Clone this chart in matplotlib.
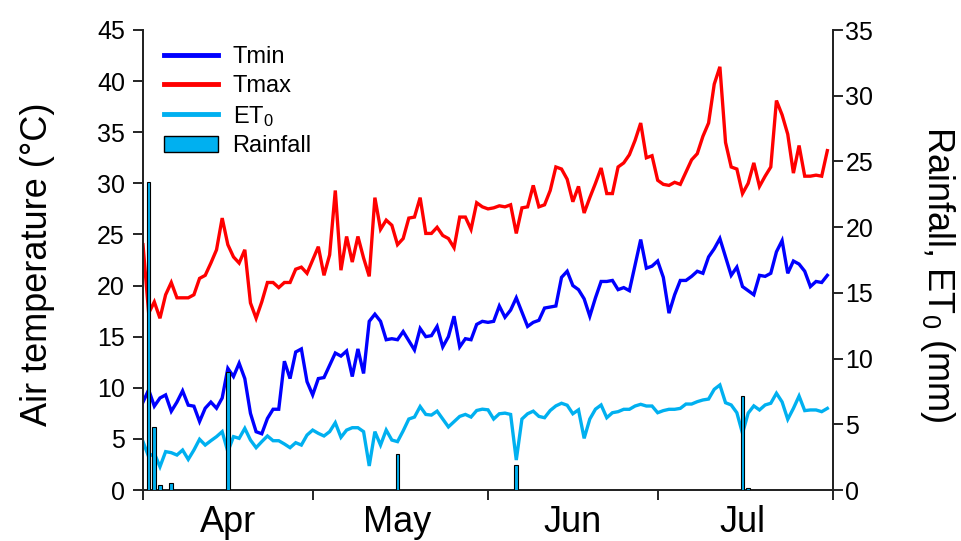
import numpy as np
import pandas as pd
import matplotlib
matplotlib.use("Agg")
import matplotlib.pyplot as plt
import matplotlib.dates as mdates
from matplotlib.patches import Patch
from matplotlib.lines import Line2D

plt.rcParams['font.family'] = ['Liberation Sans', 'DejaVu Sans']
plt.rcParams['mathtext.fontset'] = 'custom'
plt.rcParams['mathtext.rm'] = 'Liberation Sans'
plt.rcParams['mathtext.it'] = 'Liberation Sans'

start_date = '2019-04-01'

tmin = [8.6, 9.8, 8.2, 9.0, 9.3, 7.7, 8.6, 9.7, 8.3, 8.2,
        6.7, 8.0, 8.6, 8.0, 9.0, 11.9, 11.1, 12.4, 10.9, 7.5,
        5.7, 5.5, 7.0, 7.9, 7.9, 12.6, 10.9, 13.5, 13.8, 10.6,
        9.3, 10.9, 11.0, 12.2, 13.4, 13.1, 13.6, 11.1, 13.8, 11.4,
        16.5, 17.2, 16.5, 14.7, 14.8, 14.7, 15.5, 14.6, 13.7, 15.8,
        15.0, 15.1, 16.0, 14.0, 15.0, 17.0, 14.0, 14.8, 14.7, 16.2,
        16.5, 16.4, 16.5, 18.0, 16.9, 17.6, 18.8, 17.4, 16.0, 16.4,
        16.6, 17.8, 17.9, 18.0, 20.8, 21.4, 20.0, 19.6, 18.7, 17.0,
        18.8, 20.4, 20.4, 20.5, 19.6, 19.8, 19.5, 22.0, 24.5, 21.7,
        21.9, 22.4, 20.8, 17.3, 19.1, 20.5, 20.5, 20.9, 21.4, 21.2,
        22.8, 23.6, 24.6, 22.8, 21.0, 21.8, 19.9, 19.5, 19.1, 21.0,
        20.9, 21.2, 23.3, 24.4, 21.2, 22.4, 22.1, 21.4, 19.9, 20.4,
        20.3, 21.0]

tmax = [24.0, 17.3, 18.4, 16.8, 19.1, 20.3, 18.8, 18.8, 18.8, 19.1,
        20.7, 21.0, 22.2, 23.5, 26.6, 24.0, 22.8, 22.2, 23.5, 18.3,
        16.8, 18.4, 20.3, 20.3, 19.8, 20.3, 20.3, 21.6, 21.8, 21.2,
        22.5, 23.8, 21.0, 23.0, 29.3, 21.5, 24.8, 22.3, 24.8, 22.7,
        20.9, 28.6, 25.5, 26.4, 25.9, 24.0, 24.6, 26.6, 26.7, 28.6,
        25.1, 25.1, 25.7, 24.9, 24.6, 23.7, 26.7, 26.7, 25.5, 28.1,
        27.7, 27.5, 27.6, 27.8, 27.7, 27.9, 25.1, 27.6, 27.7, 29.8,
        27.7, 27.9, 29.3, 31.6, 31.4, 30.4, 28.2, 29.7, 27.1, 28.6,
        30.0, 31.5, 29.0, 29.0, 31.6, 32.0, 32.8, 34.2, 35.9, 32.5,
        32.7, 30.3, 29.9, 29.8, 30.1, 29.9, 31.1, 32.3, 32.9, 34.6,
        35.9, 39.7, 41.4, 34.0, 31.6, 31.4, 29.0, 30.0, 32.0, 29.7,
        30.7, 31.6, 38.1, 36.7, 34.8, 31.0, 33.7, 30.7, 30.7, 30.8,
        30.7, 33.2]

et0 = [3.68, 2.54, 2.79, 1.77, 2.92, 2.84, 2.66, 3.04, 2.33, 3.04,
       3.86, 3.42, 3.75, 4.06, 4.44, 2.92, 4.06, 3.93, 4.69, 3.80,
       3.22, 3.68, 4.11, 3.75, 3.75, 3.50, 3.22, 3.60, 3.42, 4.18,
       4.56, 4.31, 4.11, 4.44, 5.12, 4.01, 4.56, 4.74, 4.74, 4.44,
       1.83, 4.44, 3.42, 4.56, 3.80, 3.68, 4.50, 5.40, 5.55, 6.35,
       5.75, 5.70, 6.00, 5.40, 4.80, 5.20, 5.60, 5.75, 5.55, 6.05,
       6.15, 6.10, 5.40, 5.80, 5.85, 5.75, 2.28, 5.40, 5.80, 6.00,
       5.60, 5.50, 6.05, 6.40, 6.60, 6.45, 5.80, 6.10, 3.93, 5.40,
       6.15, 6.47, 5.50, 5.88, 5.96, 6.14, 6.14, 6.39, 6.52, 6.39,
       6.39, 5.88, 6.04, 6.14, 6.14, 6.21, 6.54, 6.54, 6.72, 6.85,
       6.92, 7.66, 7.99, 6.64, 6.47, 5.88, 4.31, 5.85, 6.40, 6.09,
       6.47, 6.60, 7.36, 6.70, 5.38, 6.21, 7.15, 6.04, 6.09, 6.09,
       5.96, 6.21]

rain_days = [1, 2, 3, 5, 15, 45, 66, 106, 107]
rain_mm = [23.45, 4.77, 0.38, 0.56, 8.95, 2.74, 1.90, 7.15, 0.13]

month_labels = ['Apr', 'May', 'Jun', 'Jul']

dates = pd.date_range(start_date, periods=len(tmin), freq='D')
rain = np.zeros(len(tmin))
rain[rain_days] = rain_mm

c_tmin = '#0000FF'
c_tmax = '#FF0000'
c_et0 = '#00B0F0'

fig = plt.figure(figsize=(9.62, 5.41), dpi=100)
ax = fig.add_axes([143/962, 51/541, 690/962, 460/541])
ax2 = ax.twinx()

ax.plot(dates, tmin, color=c_tmin, lw=2.4, solid_joinstyle='miter')
ax.plot(dates, tmax, color=c_tmax, lw=2.4, solid_joinstyle='miter')
ax2.plot(dates, et0, color=c_et0, lw=2.4, solid_joinstyle='miter', zorder=2)
mask = rain > 0
ax2.bar(dates[mask], rain[mask], width=0.65, color=c_et0, edgecolor='black',
        linewidth=0.8, zorder=3)

ax.set_ylim(0, 45)
ax.set_yticks(np.arange(0, 46, 5))
ax2.set_ylim(0, 35)
ax2.set_yticks(np.arange(0, 36, 5))

x0 = pd.Timestamp(start_date)
x1 = pd.Timestamp('2019-08-01')
ax.set_xlim(x0, x1)
ax.xaxis.set_major_locator(mdates.MonthLocator())
ax.xaxis.set_major_formatter(plt.NullFormatter())
mids = [pd.Timestamp(f'2019-{m:02d}-16') for m in range(4, 8)]
ax.set_xticks(mids, minor=True)
ax.set_xticklabels(month_labels, minor=True)
ax.tick_params(axis='x', which='minor', length=0, pad=11, labelsize=26)
ax.tick_params(axis='x', which='major', length=7, width=1.2, direction='out')
ax.tick_params(axis='y', length=7, width=1.2, direction='out', labelsize=18, pad=6)
ax2.tick_params(axis='y', length=7, width=1.2, direction='out', labelsize=18, pad=2)

for a in (ax, ax2):
    a.spines['top'].set_visible(False)
    for s in ('left', 'right', 'bottom'):
        a.spines[s].set_linewidth(1.3)
        a.spines[s].set_color('#222222')

fig.text(38/962, 1 - 264/541, 'Air temperature (°C)', rotation=90,
         ha='center', va='center', fontsize=26)
fig.text(938/962, 1 - 274/541, 'Rainfall, ET$_0$ (mm)', rotation=-90,
         ha='center', va='center', fontsize=26)

handles = [Line2D([], [], color=c_tmin, lw=3.5),
           Line2D([], [], color=c_tmax, lw=3.5),
           Line2D([], [], color=c_et0, lw=3.5),
           Patch(facecolor=c_et0, edgecolor='black', linewidth=1.0)]
labels = ['Tmin', 'Tmax', 'ET$_0$', 'Rainfall']
ax2.legend(handles, labels, loc='upper left', bbox_to_anchor=(0.01, 0.995),
           frameon=False, fontsize=17, handlelength=2.3, handletextpad=0.6,
           labelspacing=0.28, borderaxespad=0.2)

fig.savefig('out.png', dpi=100)
